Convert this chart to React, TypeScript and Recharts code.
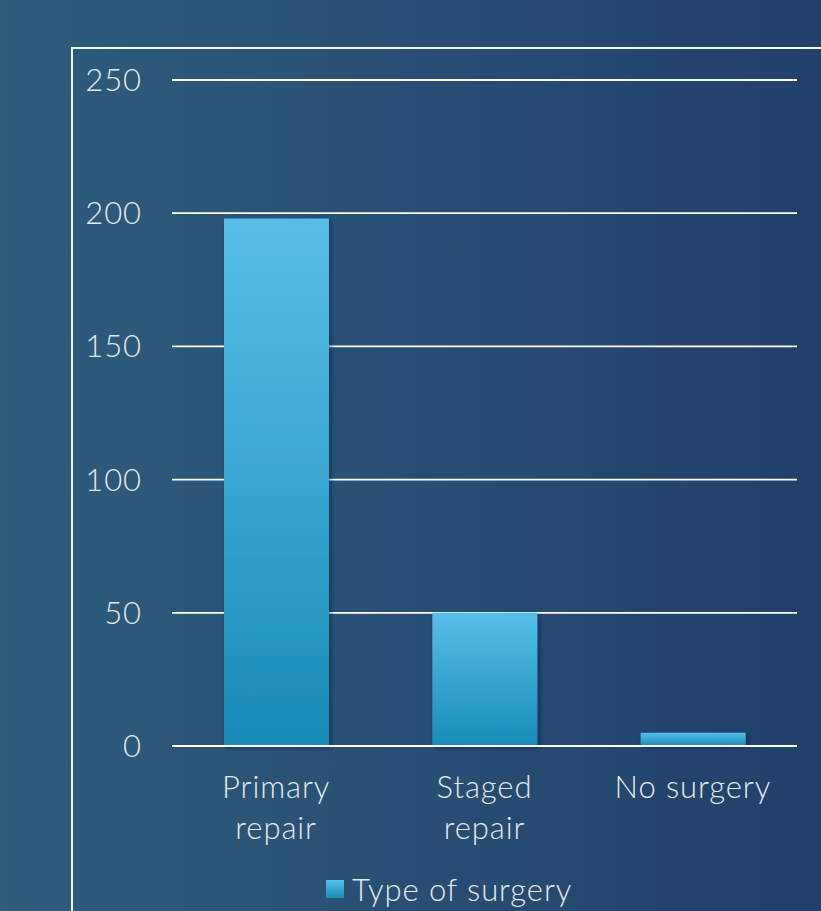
import React from 'react';
import { BarChart, Bar, XAxis, YAxis, CartesianGrid, Legend } from 'recharts';

const categories = ['Primary repair', 'Staged repair', 'No surgery'];
const surgeryCounts = [198, 50, 5];
const yTicks = [0, 50, 100, 150, 200, 250];
const seriesName = 'Type of surgery';

const data = categories.map((name, i) => ({ name, count: surgeryCounts[i] }));

const FONT = 'Lato, "Open Sans", sans-serif';
const TEXT = '#e4e8ec';
const FONT_SIZE = 31;
const SPACING = 0.9;

// greedy word wrap so long category names break onto two lines
function wrap(label: string, maxChars = 10): string[] {
  const lines: string[] = [];
  let cur = '';
  label.split(' ').forEach((w) => {
    const next = cur ? cur + ' ' + w : w;
    if (next.length > maxChars && cur) {
      lines.push(cur);
      cur = w;
    } else {
      cur = next;
    }
  });
  if (cur) lines.push(cur);
  return lines;
}

const CategoryTick = (props: any) => {
  const { x, y, payload } = props;
  const lines = wrap(payload.value);
  return (
    <text
      x={x}
      y={y}
      textAnchor="middle"
      fill={TEXT}
      fontFamily={FONT}
      fontWeight={300}
      fontSize={FONT_SIZE}
      letterSpacing={SPACING}
    >
      {lines.map((line, i) => (
        <tspan key={i} x={x} dy={i === 0 ? 44 : 41}>
          {line}
        </tspan>
      ))}
    </text>
  );
};

const SeriesLegend = () => (
  <div
    style={{
      display: 'flex',
      alignItems: 'center',
      fontFamily: FONT,
      fontWeight: 300,
      fontSize: FONT_SIZE,
      letterSpacing: SPACING,
      color: TEXT,
    }}
  >
    <span
      style={{
        display: 'inline-block',
        width: 18,
        height: 18,
        marginRight: 8,
        background: 'linear-gradient(#56bfe9, #1a8bb8)',
      }}
    />
    <span>{seriesName}</span>
  </div>
);

export default function App() {
  return (
    <div
      style={{
        position: 'absolute',
        left: 0,
        top: 0,
        width: 821,
        height: 911,
        overflow: 'hidden',
        background: 'linear-gradient(to right, #2e5d7c, #284f73 50%, #21406a)',
      }}
    >
      {/* slide frame */}
      <div
        style={{
          position: 'absolute',
          left: 71,
          top: 47,
          width: 900,
          height: 1000,
          borderTop: '2px solid #f2f4f6',
          borderLeft: '2px solid #f2f4f6',
        }}
      />
      <div style={{ position: 'absolute', left: 0, top: 0 }}>
        <BarChart
          width={821}
          height={911}
          data={data}
          margin={{ top: 80, right: 24, bottom: 135, left: 0 }}
          barSize={105}
        >
          <defs>
            <linearGradient id="barFill" x1="0" y1="0" x2="0" y2="1">
              <stop offset="0%" stopColor="#56bfe9" />
              <stop offset="100%" stopColor="#1a8bb8" />
            </linearGradient>
            <filter id="barShadow" x="-10%" y="-10%" width="130%" height="130%">
              <feDropShadow dx="2" dy="2" stdDeviation="2" floodColor="#0b1f33" floodOpacity="0.45" />
            </filter>
          </defs>
          <CartesianGrid vertical={false} stroke="#ffffff" strokeWidth={1.8} />
          <XAxis
            dataKey="name"
            height={30}
            axisLine={{ stroke: '#ffffff', strokeWidth: 2.2 }}
            tickLine={false}
            tick={<CategoryTick />}
            interval={0}
          />
          <YAxis
            width={172}
            domain={[0, 250]}
            ticks={yTicks}
            axisLine={false}
            tickLine={false}
            tickSize={30}
            tickMargin={0}
            tick={{ fill: TEXT, fontFamily: FONT, fontWeight: 300, fontSize: FONT_SIZE, letterSpacing: SPACING }}
          />
          <Legend
            layout="horizontal"
            verticalAlign="middle"
            align="center"
            content={<SeriesLegend />}
            wrapperStyle={{ top: 870, left: 326, width: 320, height: 40 }}
          />
          <Bar
            dataKey="count"
            name={seriesName}
            fill="url(#barFill)"
            filter="url(#barShadow)"
            isAnimationActive={false}
          />
        </BarChart>
      </div>
    </div>
  );
}
